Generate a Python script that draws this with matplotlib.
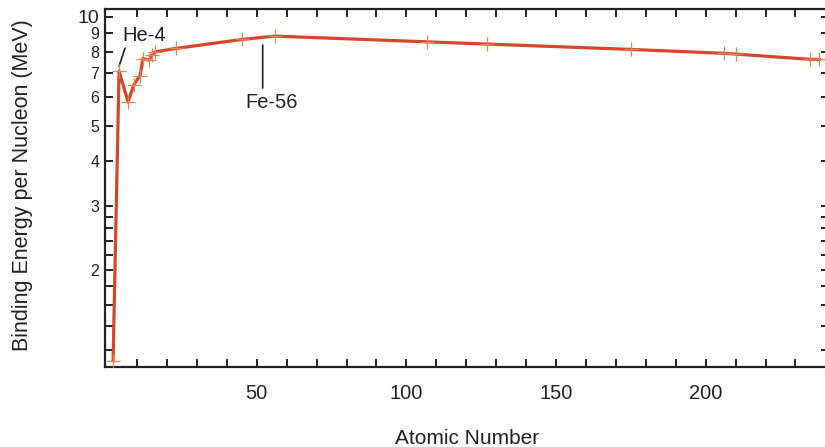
import matplotlib
matplotlib.use("Agg")
import matplotlib.pyplot as plt
from matplotlib.ticker import FixedLocator, NullFormatter, FixedFormatter
from matplotlib.text import OffsetFrom

plt.rcParams['font.family'] = ['Liberation Sans', 'DejaVu Sans']

# Data: mass number vs binding energy per nucleon (MeV)
mass_number = [2, 4, 7, 9, 11, 12, 14, 15, 16, 23, 45, 56, 107, 127, 175, 206, 210, 235, 238]
binding_energy = [1.12, 7.08, 5.82, 6.50, 6.88, 7.67, 7.59, 7.84, 8.00, 8.18,
                  8.66, 8.85, 8.53, 8.41, 8.13, 7.93, 7.89, 7.63, 7.63]

x_major = [50, 100, 150, 200]
x_minor = list(range(10, 240, 10))
y_major = [2, 3, 4, 5, 6, 7, 8, 9, 10]
y_major_labels = ['2', '3', '4', '5', '6', '7', '8', '9', '10']
y_minor = [1.2, 1.4, 1.6, 1.8, 2.2, 2.4, 2.6, 2.8]

fig = plt.figure(figsize=(8.25, 4.47), dpi=100)
ax = fig.add_axes([105/825, 1 - 367/447, (829 - 105)/825, (367 - 8.5)/447])

line_color = '#d4482a'
marker_color = '#e8805a'
ax.plot(mass_number, binding_energy, color=line_color, lw=2.3, zorder=3,
        solid_joinstyle='round')
ax.plot(mass_number, binding_energy, ls='none', marker='+', ms=10, mew=0.9,
        color=marker_color, zorder=4)

ax.set_yscale('log')
ax.set_xlim(-0.7, 241.2)
ax.set_ylim(1.075, 10.55)

ax.xaxis.set_major_locator(FixedLocator(x_major))
ax.xaxis.set_minor_locator(FixedLocator(x_minor))
ax.xaxis.set_minor_formatter(NullFormatter())
ax.yaxis.set_major_locator(FixedLocator(y_major))
ax.yaxis.set_major_formatter(FixedFormatter(y_major_labels))
ax.yaxis.set_minor_locator(FixedLocator(y_minor))
ax.yaxis.set_minor_formatter(NullFormatter())

for s in ax.spines.values():
    s.set_linewidth(1.6)
    s.set_color('#222222')

ax.tick_params(which='both', direction='in', top=True, right=True,
               length=6, width=1.4, color='#222222')
ax.tick_params(axis='x', which='major', labelsize=14.5, pad=12, labelcolor='#222222')
ax.tick_params(axis='y', which='major', labelsize=11.5, pad=4, labelcolor='#222222')
for lbl in ax.get_yticklabels():
    if lbl.get_text() == '10':
        lbl.set_fontsize(14)

ax.set_xlabel('Atomic Number', fontsize=15, color='#222222', labelpad=19)
ax.set_ylabel('Binding Energy per Nucleon (MeV)', fontsize=15.5, color='#222222',
              va='center')
ax.yaxis.set_label_coords(23/825, 1 - 185/447, transform=fig.transFigure)

# He-4 annotation
he_ref = OffsetFrom(ax.transData, (mass_number[1], binding_energy[1]), unit='pixels')
ax.annotate('', xy=(0, 5), xycoords=he_ref, xytext=(6, 23), textcoords=he_ref,
            arrowprops=dict(arrowstyle='-', color='#222222', lw=1.2,
                            shrinkA=0, shrinkB=0))
ax.annotate('He-4', xy=(0, 0), xycoords=he_ref, xytext=(25, 36), textcoords=he_ref,
            ha='center', va='center', fontsize=14.5, color='#222222')

# Fe-56 annotation
fe_ref = OffsetFrom(ax.transData, (mass_number[11], binding_energy[11]), unit='pixels')
ax.annotate('', xy=(-12, -9), xycoords=fe_ref, xytext=(-12, -52), textcoords=fe_ref,
            arrowprops=dict(arrowstyle='-', color='#222222', lw=1.2,
                            shrinkA=0, shrinkB=0))
ax.annotate('Fe-56', xy=(0, 0), xycoords=fe_ref, xytext=(-3, -66), textcoords=fe_ref,
            ha='center', va='center', fontsize=14.5, color='#222222')

fig.savefig('out.png', dpi=100)
